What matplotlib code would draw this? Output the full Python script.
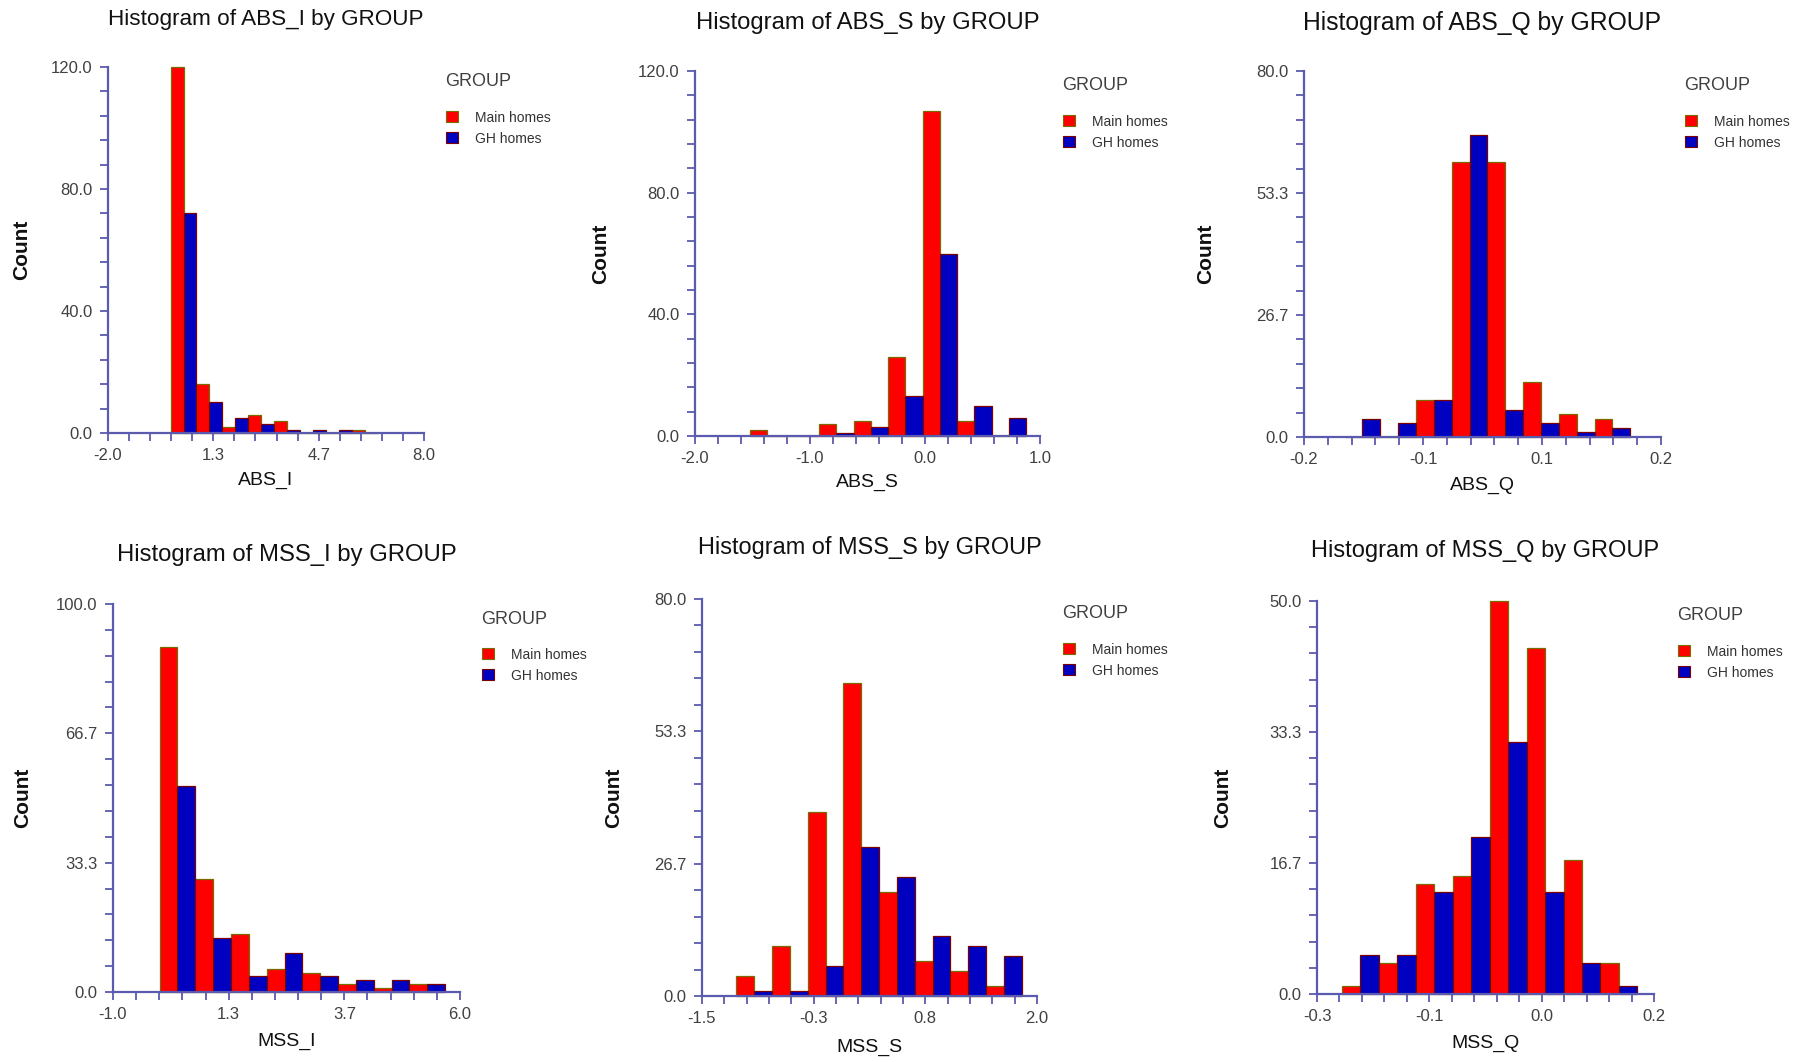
import numpy as np
import matplotlib
matplotlib.use("Agg")
import matplotlib.pyplot as plt
from matplotlib.patches import Rectangle
from matplotlib.transforms import Bbox
from matplotlib.ticker import FixedLocator, FormatStrFormatter

plt.rcParams['font.family'] = ['Liberation Sans', 'DejaVu Sans']

# ---- values: counts per bin, two groups side by side ----
groups = ["Main homes", "GH homes"]
variables = ["ABS_I", "ABS_S", "ABS_Q", "MSS_I", "MSS_S", "MSS_Q"]

# first bin edge and bin width for each variable
bin_start = [-0.02, -1.52, -0.1545, -0.06, -1.14, -0.263]
bin_width = [0.82, 0.30, 0.040, 0.72, 0.3725, 0.0548]

abs_i_main = [120, 16, 2, 6, 4, 0, 0, 1]
abs_i_gh = [72, 10, 5, 3, 1, 1, 1, 0]

abs_s_main = [2, 0, 4, 5, 26, 107, 5, 0]
abs_s_gh = [0, 0, 1, 3, 13, 60, 10, 6]

abs_q_main = [0, 0, 8, 60, 60, 12, 5, 4]
abs_q_gh = [4, 3, 8, 66, 6, 3, 1, 2]

mss_i_main = [89, 29, 15, 6, 5, 2, 1, 2]
mss_i_gh = [53, 14, 4, 10, 4, 3, 3, 2]

mss_s_main = [4, 10, 37, 63, 21, 7, 5, 2]
mss_s_gh = [1, 1, 6, 30, 24, 12, 10, 8]

mss_q_main = [1, 4, 14, 15, 50, 44, 17, 4]
mss_q_gh = [5, 5, 13, 20, 32, 13, 4, 1]

main_counts = [abs_i_main, abs_s_main, abs_q_main, mss_i_main, mss_s_main, mss_q_main]
gh_counts = [abs_i_gh, abs_s_gh, abs_q_gh, mss_i_gh, mss_s_gh, mss_q_gh]

x_range = [(-2.0, 8.0), (-2.0, 1.0), (-0.2, 0.2), (-1.0, 6.0), (-1.5, 2.0), (-0.3, 0.2)]
y_max = [120.0, 120.0, 80.0, 100.0, 80.0, 50.0]

# ---- layout (pixels of the 1818x1062 picture) ----
W, H = 1818, 1062
# left, right, top, bottom of each plot area
boxes = [(108, 424, 67, 433), (695, 1040, 71, 436), (1304, 1661, 71, 437),
         (113, 460, 604, 992), (702, 1037, 599, 996), (1317, 1654, 601, 994)]
title_y = [20, 23, 23, 555, 548, 551]
title_size = [16.2, 17.2, 17.8, 17.2, 16.9, 17.0]
count_x = [22, 601, 1206, 23, 614, 1223]
xlabel_dy = [47, 46, 48, 49, 51, 49]
legend_dx = [21, 22, 23, 21, 25, 23]
# the MSS_I legend is cut off at the right edge of its pane in the original
legend_clip = [None, None, None, 589, None, None]

RED = '#FF0000'
BLUE = '#0000C0'
AXIS = '#5A5AAE'
TXT = '#404040'

fig = plt.figure(figsize=(W / 100, H / 100), dpi=100)

for k, var in enumerate(variables):
    l, r, t, b = boxes[k]
    ax = fig.add_axes([l / W, 1 - b / H, (r - l) / W, (b - t) / H])

    edges = bin_start[k] + bin_width[k] * np.arange(len(main_counts[k]))
    half = bin_width[k] / 2
    ax.bar(edges, main_counts[k], width=half, align='edge', color=RED,
           edgecolor='#7A6A00', linewidth=0.9, clip_on=False, zorder=2)
    ax.bar(edges + half, gh_counts[k], width=half, align='edge', color=BLUE,
           edgecolor='#7A0000', linewidth=0.9, clip_on=False, zorder=2)

    lo, hi = x_range[k]
    ax.set_xlim(lo, hi)
    ax.set_ylim(0, y_max[k])

    for s in ['top', 'right']:
        ax.spines[s].set_visible(False)
    for s in ['left', 'bottom']:
        ax.spines[s].set_color(AXIS)
        ax.spines[s].set_linewidth(1.6)
        ax.spines[s].set_zorder(3)

    ax.xaxis.set_major_locator(FixedLocator(np.linspace(lo, hi, 4)))
    ax.xaxis.set_minor_locator(FixedLocator(np.linspace(lo, hi, 16)))
    ax.yaxis.set_major_locator(FixedLocator(np.linspace(0, y_max[k], 4)))
    ax.yaxis.set_minor_locator(FixedLocator(np.linspace(0, y_max[k], 16)))
    ax.xaxis.set_major_formatter(FormatStrFormatter('%.1f'))
    ax.yaxis.set_major_formatter(FormatStrFormatter('%.1f'))
    ax.tick_params(which='both', direction='out', length=6, width=1.3, color=AXIS)
    ax.tick_params(which='major', labelsize=12, labelcolor=TXT, pad=5)

    ax.set_xlabel(var, fontsize=14, color='#111111', va='center')
    ax.xaxis.set_label_coords(0.5, -xlabel_dy[k] / (b - t))
    ax.set_ylabel('Count', fontsize=15, fontweight='bold', color='#111111', va='center')
    ax.yaxis.set_label_coords((count_x[k] - l) / (r - l), 0.5)

    fig.text((l + r) / 2 / W, 1 - title_y[k] / H, 'Histogram of %s by GROUP' % var,
             fontsize=title_size[k], ha='center', va='center', color='#111111')

    # legend
    gx = r + legend_dx[k]
    fig.text(gx / W, 1 - (t + 15) / H, 'GROUP', fontsize=13, color='#404040',
             ha='left', va='center')
    for j, (name, col, ec) in enumerate([(groups[0], RED, '#7A6A00'), (groups[1], BLUE, '#7A0000')]):
        yy = t + 49 + 21 * j
        fig.patches.append(Rectangle(((gx + 1) / W, 1 - (yy + 6) / H), 12 / W, 11 / H,
                                     transform=fig.transFigure, facecolor=col,
                                     edgecolor=ec, linewidth=0.8))
        txt = fig.text((gx + 30) / W, 1 - (yy + 2) / H, name, fontsize=10, color='#333333',
                       ha='left', va='center')
        if legend_clip[k] is not None:
            txt.set_clip_box(Bbox.from_extents(0, 0, legend_clip[k], H))
            txt.set_clip_on(True)

fig.savefig('out.png', dpi=100)
